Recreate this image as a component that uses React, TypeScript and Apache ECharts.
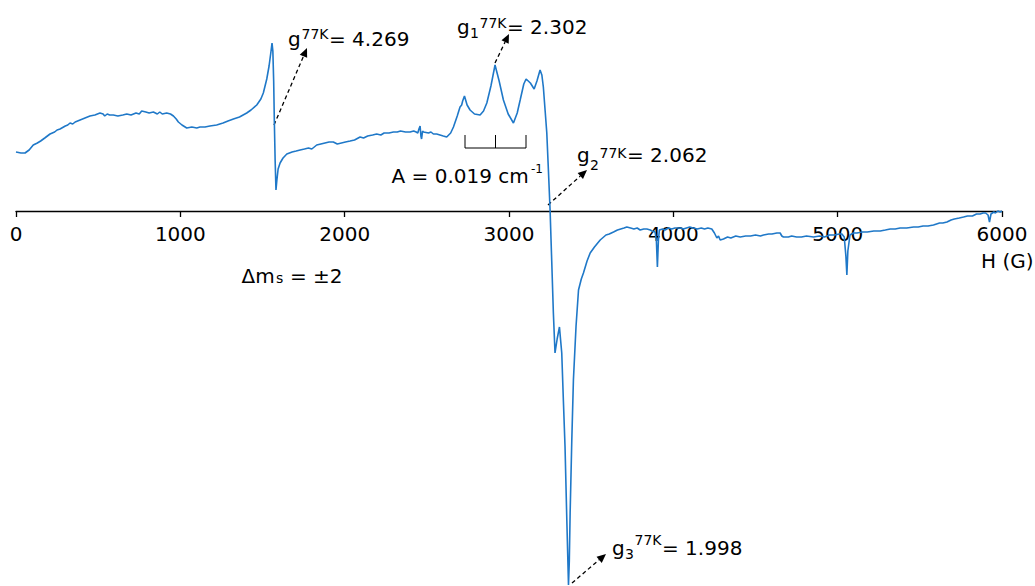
import React, { useEffect, useRef } from "react";
import * as echarts from "echarts";

// [H (G), signal (a.u.)], by field region
const lowField: [number, number][] = [
  [0, 59], [30, 58], [55, 58], [80, 61], [105, 66], [130, 68], [150, 70], [175, 73], [207, 77], [235, 79],
  [250, 81], [268, 82], [300, 85], [315, 86], [329, 88], [345, 87], [360, 89], [390, 91], [420, 93], [450, 95],
  [480, 96], [511, 98], [530, 97], [540, 95], [555, 97], [570, 96], [592, 96], [620, 95], [650, 96], [674, 97],
  [700, 96], [730, 98], [750, 97], [765, 100], [790, 99], [810, 98], [836, 99], [860, 97], [875, 99], [890, 97],
  [917, 98], [940, 97], [958, 95], [975, 92], [988, 89], [1010, 86], [1039, 83], [1070, 84], [1100, 83], [1120, 84],
  [1150, 84], [1180, 85], [1221, 86], [1260, 88], [1290, 90], [1323, 92], [1360, 94], [1404, 98], [1430, 101], [1465, 106],
  [1490, 112],
];

const halfFieldSignal: [number, number][] = [
  [1505, 118], [1526, 132], [1540, 145], [1552, 160], [1558, 168], [1563, 160], [1568, 130], [1572, 90], [1577, 50],
  [1582, 21], [1587, 30], [1595, 42], [1607, 48], [1625, 53], [1648, 57],
];

const midField: [number, number][] = [
  [1680, 59], [1705, 60], [1729, 61], [1755, 62], [1780, 63], [1800, 62], [1830, 66], [1855, 67], [1880, 68], [1905, 69],
  [1931, 69], [1955, 67], [1980, 68], [2005, 69], [2033, 70], [2060, 71], [2094, 74], [2115, 73], [2140, 75], [2170, 76],
  [2195, 77], [2220, 76], [2240, 78], [2270, 78], [2297, 79], [2320, 79], [2340, 80], [2370, 79], [2398, 79], [2420, 80],
  [2435, 79], [2445, 78], [2452, 82], [2459, 85], [2464, 75], [2468, 72], [2474, 80], [2480, 79], [2510, 78], [2525, 79],
  [2540, 77], [2560, 77], [2580, 76], [2600, 75], [2621, 74],
];

const parallelHyperfine: [number, number][] = [
  [2645, 78], [2662, 84], [2685, 95], [2702, 104], [2712, 106], [2718, 110], [2729, 115], [2745, 106], [2763, 101], [2790, 97],
  [2824, 96], [2845, 100], [2865, 108], [2890, 125], [2915, 146], [2940, 130], [2966, 111], [2995, 97], [3027, 88], [3050, 98],
  [3068, 111], [3090, 127], [3104, 132], [3130, 128], [3153, 122], [3170, 130], [3189, 141], [3200, 136], [3209, 124], [3220, 100],
  [3230, 78], [3240, 40],
];

const perpendicularRegion: [number, number][] = [
  [3250, 1], [3260, -50], [3270, -102], [3280, -142], [3293, -128], [3307, -116], [3321, -142], [3331, -190], [3341, -236], [3352, -310],
  [3362, -374], [3367, -350], [3372, -302], [3382, -230], [3392, -169], [3408, -115], [3423, -79], [3440, -68], [3453, -62], [3475, -50],
  [3494, -42], [3520, -36], [3555, -29], [3590, -24], [3610, -23], [3636, -21], [3660, -19], [3680, -18], [3700, -17],
];

const highField: [number, number][] = [
  [3717, -16], [3740, -17], [3760, -18], [3780, -17], [3798, -19], [3820, -18], [3839, -18], [3860, -19], [3870, -20], [3889, -21],
  [3897, -30], [3903, -56], [3909, -30], [3915, -19], [3935, -18], [3950, -19], [3970, -17], [3990, -18], [4010, -17], [4041, -17],
  [4060, -18], [4080, -17], [4100, -16], [4120, -17], [4145, -18], [4170, -17], [4190, -18], [4210, -17], [4234, -18], [4250, -22],
  [4265, -27], [4275, -25], [4285, -29], [4305, -28], [4330, -26], [4350, -27], [4380, -25], [4407, -26], [4440, -25], [4470, -25],
  [4500, -24], [4530, -25], [4549, -24], [4580, -23], [4600, -23], [4630, -22], [4650, -22], [4660, -25], [4670, -26], [4700, -26],
  [4720, -25], [4750, -26], [4780, -26], [4810, -25], [4853, -26], [4890, -25], [4920, -26], [4950, -24], [4980, -24], [5010, -23],
  [5026, -23], [5040, -26], [5050, -45], [5056, -64], [5062, -40], [5075, -24], [5095, -22], [5117, -22], [5150, -21], [5180, -21],
  [5220, -20], [5259, -20], [5290, -19], [5320, -18], [5350, -18], [5380, -17], [5420, -17], [5462, -16], [5490, -16], [5520, -15],
  [5550, -15], [5583, -14], [5620, -12], [5640, -12], [5665, -11], [5690, -9], [5710, -8], [5740, -7], [5766, -6], [5790, -5],
  [5820, -5], [5845, -3], [5867, -3], [5885, -2], [5900, -2], [5915, -4], [5924, -11], [5933, -3], [5950, -1], [5960, -2],
  [5975, 0], [5989, -1], [6000, 0],
];

const xTicks = [0, 1000, 2000, 3000, 4000, 5000, 6000];

const FONT = "'DejaVu Sans', sans-serif";

function txt(text: string, x: number, y: number, size: number) {
  return {
    type: "text",
    x,
    y,
    silent: true,
    style: {
      text,
      fontSize: size,
      fontFamily: FONT,
      fill: "#000",
      align: "left",
      verticalAlign: "middle",
    },
  };
}

function arrow(x1: number, y1: number, x2: number, y2: number) {
  const a = Math.atan2(y2 - y1, x2 - x1);
  const L = 9;
  const W = 4;
  const c = Math.cos(a);
  const s = Math.sin(a);
  const bx = x2 - L * c;
  const by = y2 - L * s;
  return [
    {
      type: "line",
      silent: true,
      shape: { x1, y1, x2: bx, y2: by },
      style: { stroke: "#000", lineWidth: 1.3, lineDash: [4, 3] },
    },
    {
      type: "polygon",
      silent: true,
      shape: {
        points: [
          [x2, y2],
          [bx - W * s, by + W * c],
          [bx + W * s, by - W * c],
        ],
      },
      style: { fill: "#000" },
    },
  ];
}

export default function App() {
  const ref = useRef<HTMLDivElement>(null);
  useEffect(() => {
    if (!ref.current) return;
    const chart = echarts.init(ref.current, null, { renderer: "svg" });
    const data = [
      ...lowField,
      ...halfFieldSignal,
      ...midField,
      ...parallelHyperfine,
      ...perpendicularRegion,
      ...highField,
    ];
    const graphic: any[] = [
      // g (Δms = ±2)
      txt("g", 288, 38.7, 20),
      txt("77K", 301.5, 34.1, 14),
      txt("= 4.269", 329, 38.7, 20),
      ...arrow(274, 125, 307, 48),
      // g1
      txt("g", 457, 27, 20),
      txt("1", 470, 33.4, 14),
      txt("77K", 479.5, 22.8, 14),
      txt("= 2.302", 507, 27, 20),
      ...arrow(495, 63, 509, 34),
      // hyperfine bracket
      {
        type: "polyline",
        silent: true,
        shape: { points: [[465, 135], [465, 148], [526, 148], [526, 135]] },
        style: { stroke: "#000", lineWidth: 1, fill: null },
      },
      {
        type: "line",
        silent: true,
        shape: { x1: 495.5, y1: 135, x2: 495.5, y2: 148 },
        style: { stroke: "#000", lineWidth: 1 },
      },
      txt("A = 0.019 cm", 391.5, 176.3, 20),
      txt("-1", 531, 169.1, 12),
      // g2
      txt("g", 577, 155.3, 20),
      txt("2", 590, 165.1, 14),
      txt("77K", 599.5, 152.8, 14),
      txt("= 2.062", 627, 155.3, 20),
      ...arrow(548, 205, 587, 170),
      // g3
      txt("g", 612, 548, 20),
      txt("3", 625, 554.4, 14),
      txt("77K", 634.5, 540.1, 14),
      txt("= 1.998", 662, 548, 20),
      ...arrow(572, 583, 606, 554),
      // Δms = ±2
      txt("Δm", 241.5, 276, 20),
      txt("s", 276, 278.1, 14),
      txt("= ±2", 290, 276, 20),
      // axis title
      txt("H (G)", 981, 261, 20),
    ];

    chart.setOption({
      animation: false,
      grid: [
        { left: 16, right: 33, top: 0, height: 211, containLabel: false, outerBoundsMode: "none" },
        { left: 16, right: 33, top: 0, bottom: 0, containLabel: false, outerBoundsMode: "none" },
      ],
      xAxis: [
        {
          gridIndex: 0,
          type: "value",
          position: "bottom",
          min: xTicks[0],
          max: xTicks[xTicks.length - 1],
          interval: 1000,
          axisLine: { onZero: false, lineStyle: { color: "#000", width: 1.3 } },
          axisTick: { show: true, length: 6, lineStyle: { color: "#000", width: 1.3 } },
          axisLabel: {
            show: true,
            fontSize: 20,
            lineHeight: 20,
            fontFamily: FONT,
            color: "#000",
            margin: 13,
            formatter: (v: number) => String(v),
          },
          splitLine: { show: false },
        },
        {
          gridIndex: 1,
          type: "value",
          min: xTicks[0],
          max: xTicks[xTicks.length - 1],
          show: false,
          splitLine: { show: false },
        },
      ],
      yAxis: [
        { gridIndex: 0, type: "value", min: 0, max: 1, show: false, splitLine: { show: false } },
        { gridIndex: 1, type: "value", min: -375, max: 211, show: false, splitLine: { show: false } },
      ],
      series: [
        {
          type: "line",
          xAxisIndex: 1,
          yAxisIndex: 1,
          data,
          showSymbol: false,
          symbol: "none",
          lineStyle: { color: "#1F78C8", width: 1.6 },
          clip: false,
        },
      ],
      graphic,
    });
    return () => chart.dispose();
  }, []);
  return (
    <div
      ref={ref}
      style={{ position: "fixed", left: 0, top: 0, width: 1035, height: 586, background: "#fff" }}
    />
  );
}
